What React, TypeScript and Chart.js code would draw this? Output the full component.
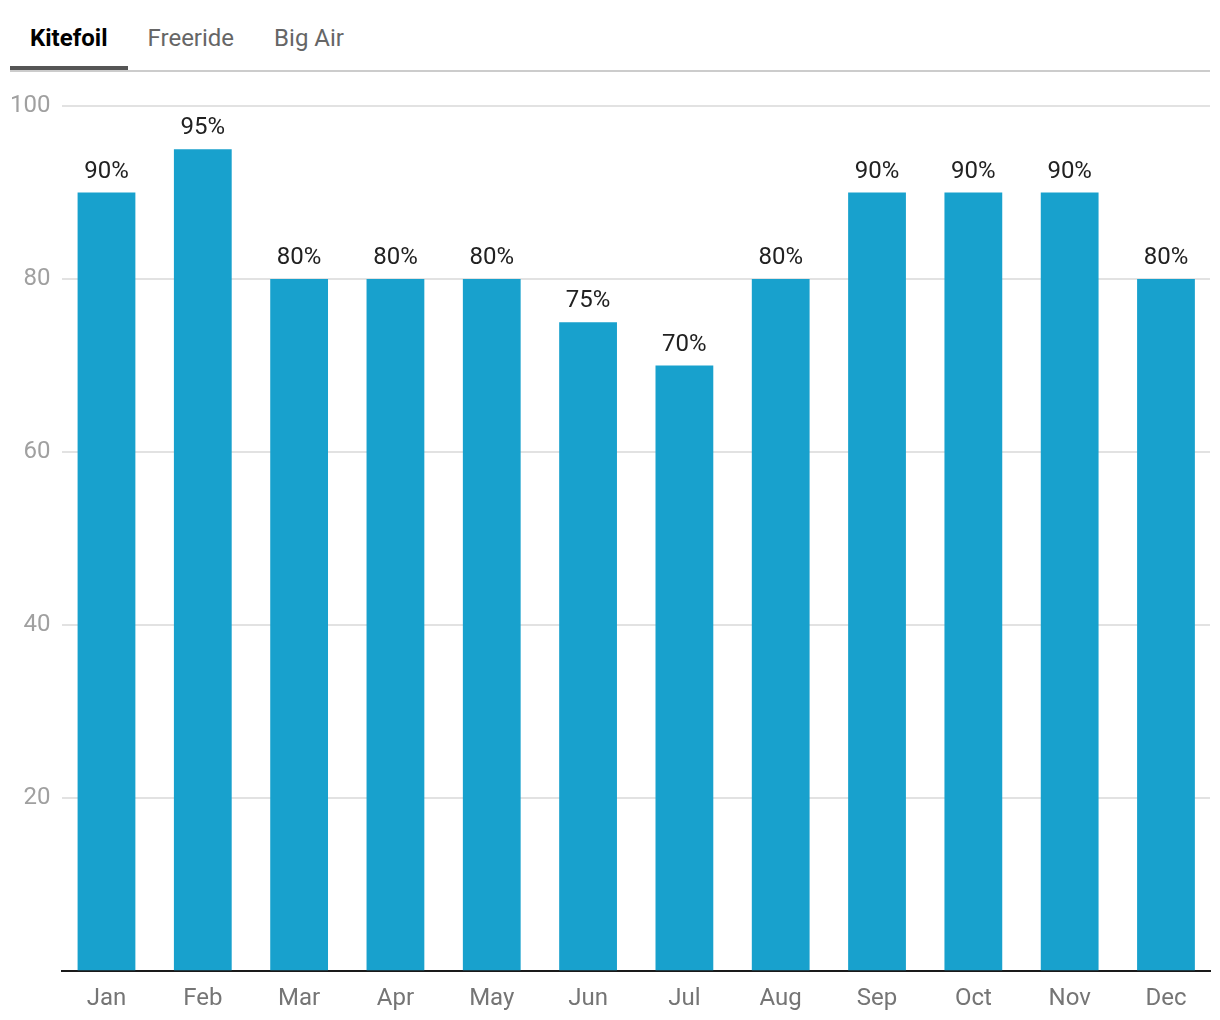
import React, { useEffect, useRef } from "react";
import { Chart, registerables } from "chart.js";

Chart.register(...registerables);

const tabs = ["Kitefoil", "Freeride", "Big Air"];
const months = ["Jan", "Feb", "Mar", "Apr", "May", "Jun", "Jul", "Aug", "Sep", "Oct", "Nov", "Dec"];
const kitefoil = [90, 95, 80, 80, 80, 75, 70, 80, 90, 90, 90, 80];
const yTicks = [20, 40, 60, 80, 100];

const FONT = "Roboto, 'Noto Sans', sans-serif";

const valueLabels = {
  id: "valueLabels",
  afterDatasetsDraw(chart: any) {
    const ctx = chart.ctx;
    const meta = chart.getDatasetMeta(0);
    ctx.save();
    ctx.font = `24px ${FONT}`;
    ctx.fillStyle = "#212121";
    ctx.textAlign = "center";
    ctx.textBaseline = "alphabetic";
    meta.data.forEach((bar: any, i: number) => {
      ctx.fillText(`${kitefoil[i]}%`, bar.x, bar.y - 15);
    });
    ctx.restore();
  },
};

export default function App() {
  const ref = useRef<HTMLCanvasElement | null>(null);
  useEffect(() => {
    if (!ref.current) return;
    const chart = new Chart(ref.current, {
      type: "bar",
      data: {
        datasets: [
          {
            data: kitefoil.map((v, i) => ({ x: i, y: v })),
            backgroundColor: "#18a1cd",
            barPercentage: 0.6,
            categoryPercentage: 1,
          },
        ],
      },
      options: {
        animation: false,
        responsive: false,
        maintainAspectRatio: false,
        layout: { padding: { top: 34, left: -10, right: 2, bottom: -6 } },
        plugins: { legend: { display: false }, tooltip: { enabled: false } },
        scales: {
          x: {
            type: "linear",
            min: -0.457,
            max: months.length - 1 + 0.457,
            offset: false,
            afterBuildTicks: (axis: any) => {
              axis.ticks = months.map((_, i) => ({ value: i }));
            },
            grid: { display: false, drawTicks: false },
            border: { display: true, color: "#1a1a1a", width: 2 },
            ticks: {
              color: "#757575",
              font: { family: FONT, size: 24 },
              padding: 13,
              autoSkip: false,
              maxRotation: 0,
              callback: (v: any) => months[Math.round(v)] ?? "",
            },
          },
          y: {
            min: 0,
            max: 100,
            afterBuildTicks: (axis: any) => {
              axis.ticks = [0, ...yTicks].map((v) => ({ value: v }));
            },
            grid: { color: "#e2e2e2", lineWidth: 2, drawTicks: false },
            border: { display: false },
            ticks: {
              color: "#a0a0a0",
              font: { family: FONT, size: 24 },
              padding: 12,
              callback: (v: any) => (v === 0 ? "" : String(v)),
            },
          },
        },
      },
      plugins: [valueLabels],
    });
    return () => chart.destroy();
  }, []);

  return (
    <div style={{ fontFamily: FONT }}>
      <div
        style={{
          display: "flex",
          marginLeft: 2,
          width: 1200,
          borderBottom: "2px solid #cccccc",
          boxSizing: "content-box",
        }}
      >
        {tabs.map((t, i) => (
          <div
            key={t}
            style={{
              padding: "2px 20px 0 20px",
              height: 62,
              boxSizing: "border-box",
              display: "flex",
              alignItems: "center",
              fontSize: 24,
              fontWeight: i === 0 ? 700 : 400,
              color: i === 0 ? "#000000" : "#666666",
              borderBottom: i === 0 ? "4px solid #555555" : "4px solid transparent",
            }}
          >
            {t}
          </div>
        ))}
      </div>
      <canvas ref={ref} width={1204} height={948} style={{ display: "block" }} />
    </div>
  );
}
